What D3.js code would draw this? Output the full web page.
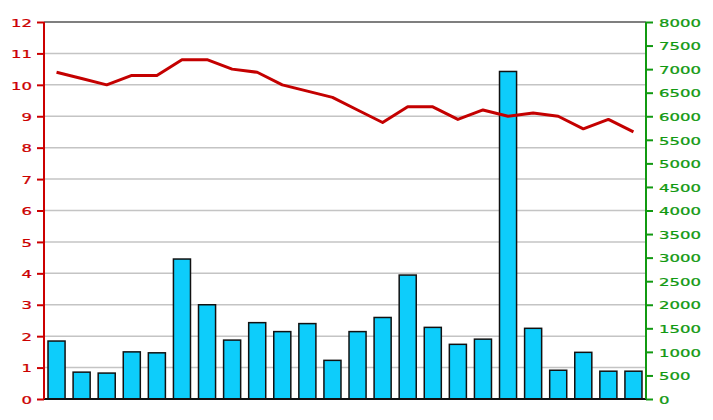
<!DOCTYPE html>
<html>
<head>
<meta charset="utf-8">
<script src="https://cdn.jsdelivr.net/npm/d3@7"></script>
<style>
  body { margin: 0; background: #fff; }
  text { font-family: 'DejaVu Sans', Verdana, sans-serif; }
</style>
</head>
<body>
<svg id="container"></svg>
<script>
const days = d3.range(1, 25)
const prices = [
  10.4, 10.2, 10.0, 10.3, 10.3, 10.8, 10.8, 10.5, 10.4, 10.0, 9.8, 9.6,
  9.2, 8.8, 9.3, 9.3, 8.9, 9.2, 9.0, 9.1, 9.0, 8.6, 8.9, 8.5,
]
const volumes = [
  1230, 570, 550, 1000, 980, 2970, 2000, 1250, 1620, 1430, 1600, 820,
  1430, 1730, 2630, 1520, 1160, 1270, 6950, 1500, 610, 990, 590, 590,
]
const priceTicks = d3.range(0, 13)
const volumeTicks = d3.range(0, 8001, 500)

const margin = { top: 22, right: 67, bottom: 21, left: 44 },
  w = 713 - margin.left - margin.right,
  h = 420 - margin.top - margin.bottom

const red = '#cc0000',
  green = '#119911'

var svg = d3
  .select('#container')
  .attr('width', 713)
  .attr('height', 420)
  .append('g')
  .attr('transform', `translate(${margin.left},${margin.top})`)

let xBand = d3
  .scaleBand()
  .domain(days)
  .range([0, w])
  .paddingInner(0.32)
  .paddingOuter(0.16)

let yScale = d3.scaleLinear().domain([0, 12]).range([h, 0])
let y2Scale = d3.scaleLinear().domain([0, 8000]).range([h, 0])

// grid
svg
  .append('g')
  .selectAll('line')
  .data(priceTicks.slice(1, -1))
  .enter()
  .append('line')
  .attr('x1', 0)
  .attr('x2', w)
  .attr('y1', (d) => yScale(d))
  .attr('y2', (d) => yScale(d))
  .attr('stroke', '#c4c4c4')
  .attr('stroke-width', 1.5)

svg
  .append('line')
  .attr('x1', 0)
  .attr('x2', w)
  .attr('y1', yScale(12))
  .attr('y2', yScale(12))
  .attr('stroke', '#555')
  .attr('stroke-width', 1.5)

// volume bars
svg
  .selectAll('.bar')
  .data(volumes)
  .enter()
  .append('rect')
  .attr('class', 'bar')
  .attr('x', (d, i) => xBand(days[i]))
  .attr('y', (d) => y2Scale(d))
  .attr('width', xBand.bandwidth())
  .attr('height', (d) => h - y2Scale(d))
  .attr('fill', '#0dcdfb')
  .attr('stroke', '#111')
  .attr('stroke-width', 1.5)

// price line
svg
  .append('path')
  .datum(prices)
  .attr('fill', 'none')
  .attr('stroke', '#c40000')
  .attr('stroke-width', 3)
  .attr('stroke-linejoin', 'round')
  .attr(
    'd',
    d3
      .line()
      .x((d, i) => xBand(days[i]) + xBand.bandwidth() / 2)
      .y(yScale)
  )

svg
  .append('line')
  .attr('x1', 0)
  .attr('x2', w)
  .attr('y1', h)
  .attr('y2', h)
  .attr('stroke', '#111')
  .attr('stroke-width', 2)

// axes
var gY = svg
  .append('g')
  .call(
    d3
      .axisLeft(yScale)
      .tickValues(priceTicks)
      .tickFormat(d3.format('d'))
      .tickSize(7)
  )
var gY2 = svg
  .append('g')
  .attr('transform', `translate(${w},0)`)
  .call(
    d3
      .axisRight(y2Scale)
      .tickValues(volumeTicks)
      .tickFormat(d3.format('d'))
      .tickSize(7)
  )

function styleAxis(g, color, anchorX, anchor) {
  g.select('.domain').attr('stroke', color).attr('stroke-width', 2)
  g.selectAll('.tick line').attr('stroke', color).attr('stroke-width', 2)
  g.selectAll('.tick text')
    .attr('fill', color)
    .attr('stroke', color)
    .attr('stroke-width', 0.25)
    .attr('font-size', 11)
    .attr('text-anchor', anchor)
    .attr('x', 0)
    .attr('dy', '0.38em')
    .attr('transform', `translate(${anchorX},0) scale(1.5,1)`)
}
styleAxis(gY, red, -12, 'end')
styleAxis(gY2, green, 13, 'start')
gY.select('.domain').attr('d', `M0,${h}V0`)
gY2.select('.domain').attr('d', `M0,${h}V0`)
</script>
</body>
</html>
